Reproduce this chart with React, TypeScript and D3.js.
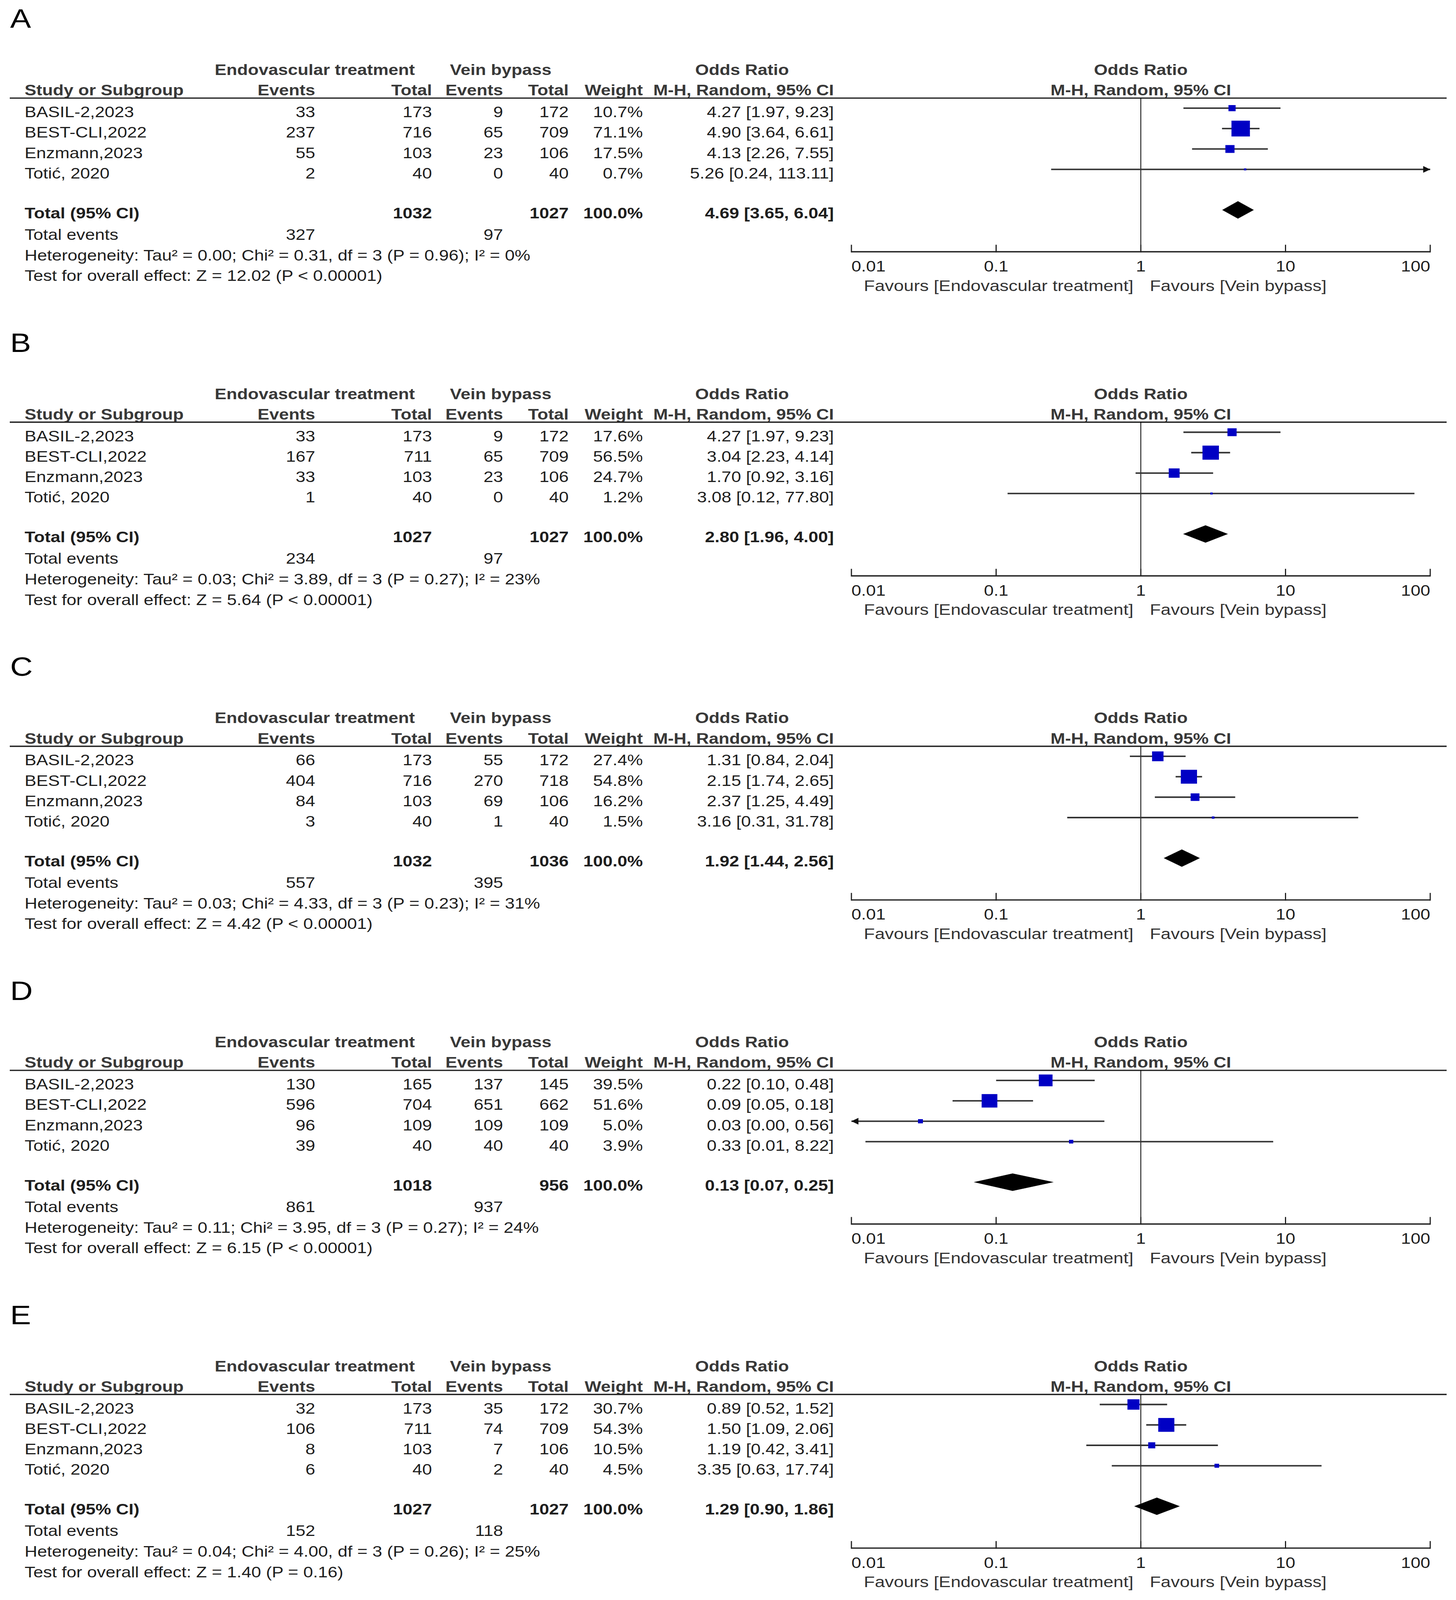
import React from "react";
import * as d3 from "d3";

const W = 3728;
const H = 4779;

const panelLetters = ["A", "B", "C", "D", "E"];
const studies = ["BASIL-2,2023", "BEST-CLI,2022", "Enzmann,2023", "Totić, 2020"];

const endoEvents = [[33, 237, 55, 2], [33, 167, 33, 1], [66, 404, 84, 3], [130, 596, 96, 39], [32, 106, 8, 6]];
const endoTotals = [[173, 716, 103, 40], [173, 711, 103, 40], [173, 716, 103, 40], [165, 704, 109, 40], [173, 711, 103, 40]];
const veinEvents = [[9, 65, 23, 0], [9, 65, 23, 0], [55, 270, 69, 1], [137, 651, 109, 40], [35, 74, 7, 2]];
const veinTotals = [[172, 709, 106, 40], [172, 709, 106, 40], [172, 718, 106, 40], [145, 662, 109, 40], [172, 709, 106, 40]];
const weights = [[10.7, 71.1, 17.5, 0.7], [17.6, 56.5, 24.7, 1.2], [27.4, 54.8, 16.2, 1.5], [39.5, 51.6, 5.0, 3.9], [30.7, 54.3, 10.5, 4.5]];
const oddsRatios = [[4.27, 4.9, 4.13, 5.26], [4.27, 3.04, 1.7, 3.08], [1.31, 2.15, 2.37, 3.16], [0.22, 0.09, 0.03, 0.33], [0.89, 1.5, 1.19, 3.35]];
const ciLower = [[1.97, 3.64, 2.26, 0.24], [1.97, 2.23, 0.92, 0.12], [0.84, 1.74, 1.25, 0.31], [0.1, 0.05, 0.001, 0.0125], [0.52, 1.09, 0.42, 0.63]];
const ciUpper = [[9.23, 6.61, 7.55, 113.11], [9.23, 4.14, 3.16, 77.8], [2.04, 2.65, 4.49, 31.78], [0.48, 0.18, 0.56, 8.22], [1.52, 2.06, 3.41, 17.74]];

const pooledOR = [4.69, 2.8, 1.92, 0.13, 1.29];
const pooledLo = [3.65, 1.96, 1.44, 0.07, 0.9];
const pooledHi = [6.04, 4.0, 2.56, 0.25, 1.86];
const totalEndo = [1032, 1027, 1032, 1018, 1027];
const totalVein = [1027, 1027, 1036, 956, 1027];
const totalEventsEndo = [327, 234, 557, 861, 152];
const totalEventsVein = [97, 97, 395, 937, 118];

const tau2 = ["0.00", "0.03", "0.03", "0.11", "0.04"];
const chi2 = ["0.31", "3.89", "4.33", "3.95", "4.00"];
const hetP = ["0.96", "0.27", "0.23", "0.27", "0.26"];
const i2 = ["0", "23", "31", "24", "25"];
const zValues = ["12.02", "5.64", "4.42", "6.15", "1.40"];
const pOverall = ["P < 0.00001", "P < 0.00001", "P < 0.00001", "P < 0.00001", "P = 0.16"];

const axisTicks = [0.01, 0.1, 1, 10, 100];
const axisTickLabels = ["0.01", "0.1", "1", "10", "100"];

const FONT = "Liberation Sans, Arial, Helvetica, sans-serif";
const FS = 45;
const TXT = "#1e1e1e";
const HDR = "#383838";
const BLUE = "#0000c4";

const PANEL_H = 968;

const x = d3.scaleLog().domain([0.01, 100]).range([2180, 3662]);

const fmt = (v: number) => v.toFixed(2);
const ciLabel = (o: number, l: number, h: number) => `${fmt(o)} [${fmt(l)}, ${fmt(h)}]`;

const COL = {
  study: 63,
  endoEv: 807,
  endoTot: 1106,
  veinEv: 1288,
  veinTot: 1456,
  weight: 1646,
  or: 2135,
};

function Panel({ i }: { i: number }) {
  const y0 = i * PANEL_H;
  const rowBase = (r: number) => 350 + 61 * r;
  const markerY = (r: number) => rowBase(r) - 27;
  const totalBase = 652;
  const diamondY = totalBase - 25;
  const axisY = 752;
  const domainLo = x.domain()[0];
  const domainHi = x.domain()[1];

  const t = (props: any, s: any) => (
    <text fontFamily={FONT} fontSize={FS} fill={TXT} {...props}>{s}</text>
  );
  const tb = (props: any, s: any) => (
    <text fontFamily={FONT} fontSize={FS} fill={HDR} fontWeight="bold" {...props}>{s}</text>
  );

  const arrow = (tipX: number, y: number, dir: number) => {
    const p = d3.path();
    p.moveTo(tipX, y);
    p.lineTo(tipX - dir * 18, y - 10);
    p.lineTo(tipX - dir * 18, y + 10);
    p.closePath();
    return <path d={p.toString()} fill="#111" />;
  };

  const diamond = d3.path();
  diamond.moveTo(x(pooledLo[i]), diamondY);
  diamond.lineTo(x(pooledOR[i]), diamondY - 26);
  diamond.lineTo(x(pooledHi[i]), diamondY);
  diamond.lineTo(x(pooledOR[i]), diamondY + 26);
  diamond.closePath();

  return (
    <g transform={`translate(0,${y0})`}>
      <text x={26} y={83} fontFamily={FONT} fontSize={80} fill="#000">
        {panelLetters[i]}
      </text>

      {tb({ x: 806, y: 224, textAnchor: "middle" }, "Endovascular treatment")}
      {tb({ x: 1282, y: 224, textAnchor: "middle" }, "Vein bypass")}
      {tb({ x: 1900, y: 224, textAnchor: "middle" }, "Odds Ratio")}
      {tb({ x: 2921, y: 224, textAnchor: "middle" }, "Odds Ratio")}

      {tb({ x: COL.study, y: 285 }, "Study or Subgroup")}
      {tb({ x: COL.endoEv, y: 285, textAnchor: "end" }, "Events")}
      {tb({ x: COL.endoTot, y: 285, textAnchor: "end" }, "Total")}
      {tb({ x: COL.veinEv, y: 285, textAnchor: "end" }, "Events")}
      {tb({ x: COL.veinTot, y: 285, textAnchor: "end" }, "Total")}
      {tb({ x: COL.weight, y: 285, textAnchor: "end" }, "Weight")}
      {tb({ x: COL.or, y: 285, textAnchor: "end" }, "M-H, Random, 95% CI")}
      {tb({ x: 2921, y: 285, textAnchor: "middle" }, "M-H, Random, 95% CI")}

      <line x1={25} x2={3704} y1={293} y2={293} stroke="#222" strokeWidth={4} />

      {studies.map((s, r) => (
        <g key={s}>
          {t({ x: COL.study, y: rowBase(r) }, s)}
          {t({ x: COL.endoEv, y: rowBase(r), textAnchor: "end" }, endoEvents[i][r])}
          {t({ x: COL.endoTot, y: rowBase(r), textAnchor: "end" }, endoTotals[i][r])}
          {t({ x: COL.veinEv, y: rowBase(r), textAnchor: "end" }, veinEvents[i][r])}
          {t({ x: COL.veinTot, y: rowBase(r), textAnchor: "end" }, veinTotals[i][r])}
          {t({ x: COL.weight, y: rowBase(r), textAnchor: "end" }, `${weights[i][r].toFixed(1)}%`)}
          {t({ x: COL.or, y: rowBase(r), textAnchor: "end" }, ciLabel(oddsRatios[i][r], ciLower[i][r], ciUpper[i][r]))}
        </g>
      ))}

      {tb({ x: COL.study, y: totalBase, fill: TXT }, "Total (95% CI)")}
      {tb({ x: COL.endoTot, y: totalBase, textAnchor: "end", fill: TXT }, totalEndo[i])}
      {tb({ x: COL.veinTot, y: totalBase, textAnchor: "end", fill: TXT }, totalVein[i])}
      {tb({ x: COL.weight, y: totalBase, textAnchor: "end", fill: TXT }, "100.0%")}
      {tb({ x: COL.or, y: totalBase, textAnchor: "end", fill: TXT }, ciLabel(pooledOR[i], pooledLo[i], pooledHi[i]))}

      {t({ x: COL.study, y: 716 }, "Total events")}
      {t({ x: COL.endoEv, y: 716, textAnchor: "end" }, totalEventsEndo[i])}
      {t({ x: COL.veinEv, y: 716, textAnchor: "end" }, totalEventsVein[i])}
      {t({ x: COL.study, y: 778 }, `Heterogeneity: Tau² = ${tau2[i]}; Chi² = ${chi2[i]}, df = 3 (P = ${hetP[i]}); I² = ${i2[i]}%`)}
      {t({ x: COL.study, y: 839 }, `Test for overall effect: Z = ${zValues[i]} (${pOverall[i]})`)}

      <line x1={x(1)} x2={x(1)} y1={293} y2={axisY} stroke="#000" strokeWidth={2} />

      {studies.map((s, r) => {
        const y = markerY(r);
        const lo = ciLower[i][r];
        const hi = ciUpper[i][r];
        const x1 = lo < domainLo ? x(domainLo) : x(lo);
        const x2 = hi > domainHi ? x(domainHi) : x(hi);
        const size = Math.max(6, 5.6 * Math.sqrt(weights[i][r]));
        const cx = x(oddsRatios[i][r]);
        return (
          <g key={"m" + s}>
            <line x1={x1} x2={x2} y1={y} y2={y} stroke="#333" strokeWidth={4.5} />
            {hi > domainHi && arrow(x(domainHi), y, 1)}
            {lo < domainLo && arrow(x(domainLo), y, -1)}
            <rect x={cx - size / 2} y={y - size / 2} width={size} height={size} fill={BLUE} />
          </g>
        );
      })}

      <path d={diamond.toString()} fill="#000" />

      <line x1={x(0.01)} x2={x(100)} y1={axisY} y2={axisY} stroke="#222" strokeWidth={4} />
      {axisTicks.map((v, k) => (
        <g key={"t" + v}>
          <line x1={x(v)} x2={x(v)} y1={axisY - 21} y2={axisY + 2} stroke="#222" strokeWidth={3} />
          {t(
            {
              x: x(v),
              y: 811,
              textAnchor: k === 0 ? "start" : k === axisTicks.length - 1 ? "end" : "middle",
            },
            axisTickLabels[k]
          )}
        </g>
      ))}
      {t({ x: x(1) - 19, y: 869, textAnchor: "end", fill: "#333", fontSize: 46 }, "Favours [Endovascular treatment]")}
      {t({ x: x(1) + 23, y: 869, fill: "#333", fontSize: 46 }, "Favours [Vein bypass]")}
    </g>
  );
}

export default function App() {
  return (
    <div>
      <style>{"html,body{margin:0;padding:0;background:#fff;overflow:hidden}"}</style>
      <svg
        viewBox={`0 0 ${W} ${H}`}
        preserveAspectRatio="none"
        style={{ display: "block", width: "100vw", height: "100vh", background: "#fff" }}
      >
        <rect width={W} height={H} fill="#fff" />
        {panelLetters.map((_, i) => (
          <Panel key={i} i={i} />
        ))}
      </svg>
    </div>
  );
}
